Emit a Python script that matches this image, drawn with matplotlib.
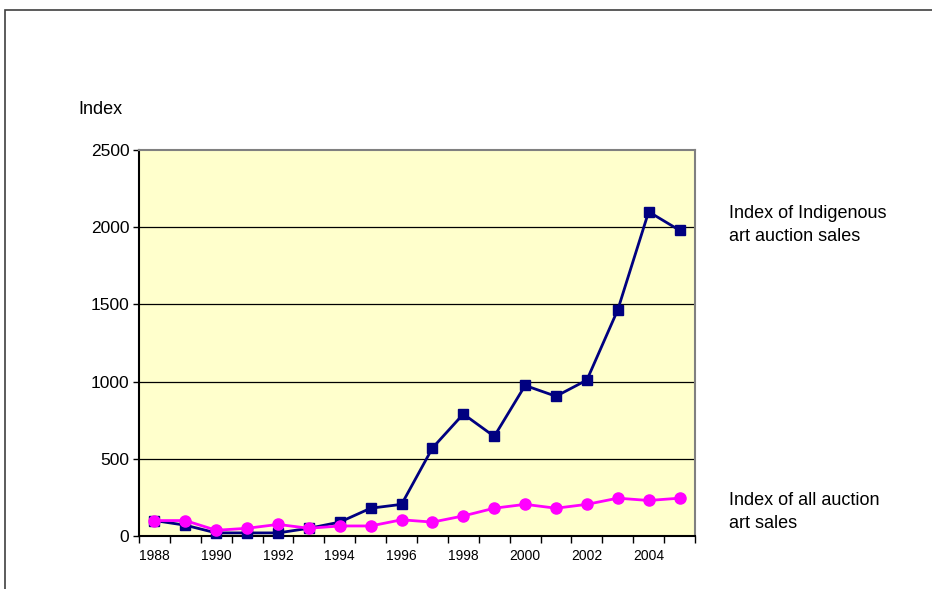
import numpy as np
import matplotlib.pyplot as plt
from matplotlib.patches import Rectangle

# Auction sales indices, 1988 = 100
years = list(range(1988, 2006))
indigenous = [100, 70, 20, 20, 20, 50, 90, 180, 205, 570, 790, 645, 975, 905, 1010, 1465, 2100, 1980]
all_sales = [100, 100, 37, 50, 75, 50, 65, 65, 105, 90, 130, 180, 205, 180, 205, 245, 230, 245]
y_ticks = [0, 500, 1000, 1500, 2000, 2500]

FONT = ['Liberation Sans Narrow', 'Liberation Sans', 'DejaVu Sans']
plt.rcParams['font.family'] = FONT

fig = plt.figure(figsize=(9.32, 5.89), dpi=100)
ax = fig.add_axes([139 / 932, 53 / 589, 556 / 932, 386 / 589])
ax.set_facecolor('#FFFFCC')

# outer chart frame, running off the right and bottom edges
fig.patches.append(Rectangle((4.5 / 932, -0.05), 1.1, 1 - 9.5 / 589 + 0.05,
                             transform=fig.transFigure, fill=False,
                             edgecolor='#404040', linewidth=1.2))

x = np.arange(len(years))
for v in y_ticks[1:-1]:
    ax.axhline(v, color='black', linewidth=0.9, zorder=1)

ax.plot(x, indigenous, color='#000080', linewidth=2, marker='s', markersize=7.5,
        zorder=3, clip_on=False)
ax.plot(x, all_sales, color='#FF00FF', linewidth=2, marker='o', markersize=8,
        zorder=4, clip_on=False)

ax.set_xlim(-0.5, len(years) - 0.5)
ax.set_ylim(0, 2500)
ax.set_yticks(y_ticks)
ax.set_yticklabels([str(v) for v in y_ticks], fontsize=12.5)
ax.tick_params(axis='y', length=4, width=1, pad=3, direction='out')

# labels on every other year, tick marks between categories
ax.set_xticks(x[::2])
ax.set_xticklabels([str(y) for y in years[::2]], fontsize=10)
ax.set_xticks(np.arange(-0.5, len(years), 1), minor=True)
ax.tick_params(axis='x', which='major', length=0, pad=9)
ax.tick_params(axis='x', which='minor', length=5, width=1, direction='out')

ax.spines['left'].set_color('black')
ax.spines['bottom'].set_color('black')
ax.spines['top'].set_color('#808080')
ax.spines['right'].set_color('#808080')
for s in ax.spines.values():
    s.set_linewidth(1.5)

fig.text(78 / 932, 1 - 110 / 589, 'Index', fontsize=13, va='center', ha='left')
fig.text(729 / 932, 1 - 225 / 589, 'Index of Indigenous\nart auction sales',
         fontsize=13, va='center', ha='left', linespacing=1.4)
fig.text(729 / 932, 1 - 512 / 589, 'Index of all auction\nart sales',
         fontsize=13, va='center', ha='left', linespacing=1.4)

fig.savefig('out.png', dpi=100)
